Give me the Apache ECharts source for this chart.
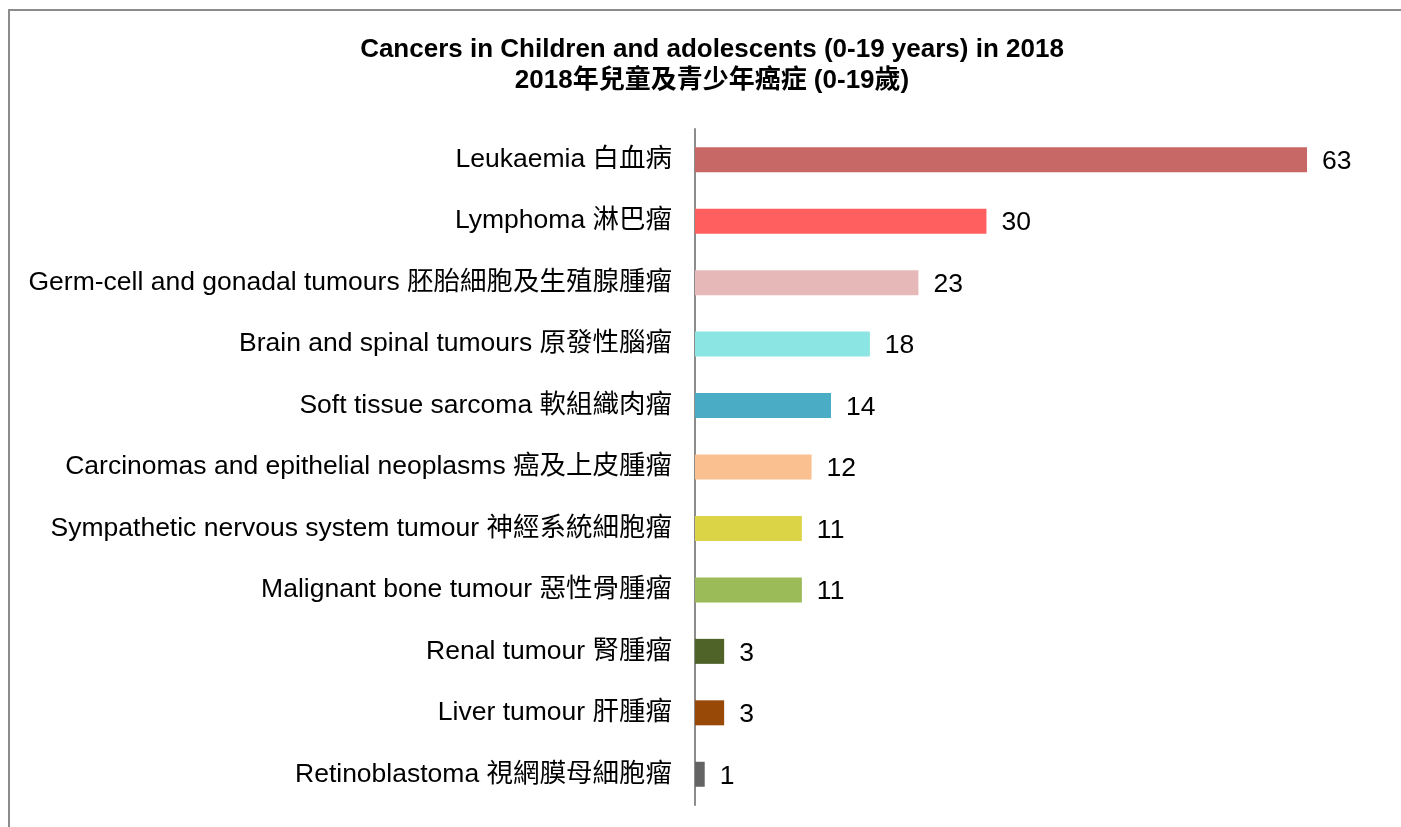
<!DOCTYPE html>
<html>
<head>
<meta charset="utf-8">
<script src="https://cdn.jsdelivr.net/npm/echarts@6/dist/echarts.min.js"></script>
<style>
  html, body { margin: 0; padding: 0; background: #fff; overflow: hidden; }
  #frame { position: absolute; left: 8px; top: 9px; width: 1500px; height: 900px; border-left: 2px solid #8c8c8c; border-top: 2px solid #8c8c8c; }
  #main { position: absolute; left: 0; top: 0; width: 1401px; height: 827px; }
</style>
</head>
<body>
<div id="frame"></div>
<div id="main"></div>
<script>
// 类别与数值
const categories = [
  'Leukaemia 白血病',
  'Lymphoma 淋巴瘤',
  'Germ-cell and gonadal tumours 胚胎細胞及生殖腺腫瘤',
  'Brain and spinal tumours 原發性腦瘤',
  'Soft tissue sarcoma 軟組織肉瘤',
  'Carcinomas and epithelial neoplasms 癌及上皮腫瘤',
  'Sympathetic nervous system tumour 神經系統細胞瘤',
  'Malignant bone tumour 惡性骨腫瘤',
  'Renal tumour 腎腫瘤',
  'Liver tumour 肝腫瘤',
  'Retinoblastoma 視網膜母細胞瘤'
]
const values = [63, 30, 23, 18, 14, 12, 11, 11, 3, 3, 1]
const barColors = ['#C76766', '#FF5F5F', '#E6B8B7', '#8BE6E3', '#4BACC6', '#FAC090',
  '#DBD447', '#9BBB59', '#4F6228', '#984807', '#646464']

const font = '"Liberation Sans", Arial, "Noto Sans CJK TC", sans-serif'

echarts.init(document.getElementById('main')).setOption({
  animation: false,
  title: {
    text: 'Cancers in Children and adolescents (0-19 years) in 2018\n2018年兒童及青少年癌症 (0-19歲)',
    left: 707,
    top: 29,
    textAlign: 'center',
    textStyle: {
      fontFamily: font,
      fontWeight: 'bold',
      fontSize: 26,
      lineHeight: 31,
      color: '#000'
    }
  },
  grid: {
    left: 695,
    right: 26,
    top: 129,
    bottom: 22,
    containLabel: false
  },
  xAxis: {
    type: 'value',
    min: 0,
    max: 70,
    show: false
  },
  yAxis: {
    type: 'category',
    inverse: true,
    data: categories,
    axisLine: { show: true, lineStyle: { color: '#8c8c8c', width: 2 } },
    axisTick: { show: false },
    axisLabel: {
      margin: 23,
      fontFamily: font,
      fontSize: 26.5,
      color: '#000'
    }
  },
  series: [{
    type: 'bar',
    barWidth: 25,
    data: values.map((v, i) => ({ value: v, itemStyle: { color: barColors[i] } })),
    label: {
      show: true,
      position: 'right',
      distance: 15,
      offset: [0, 2],
      fontFamily: font,
      fontSize: 26.5,
      color: '#000'
    }
  }]
})
</script>
</body>
</html>
